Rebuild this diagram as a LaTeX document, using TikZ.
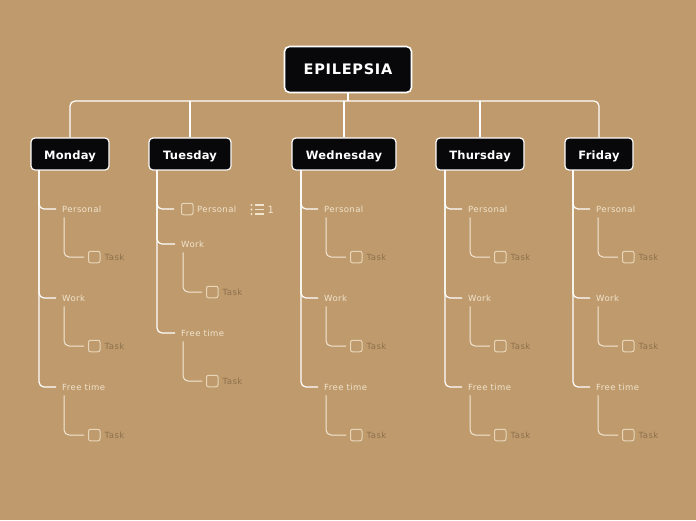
\documentclass[tikz,border=0pt]{standalone}
\usepackage{fontspec}
\setmainfont{DejaVu Sans}
\newfontfamily\rootfont[LetterSpace=5]{DejaVu Sans}
\newfontfamily\dayfont[LetterSpace=2]{DejaVu Sans}
\newfontfamily\labfont[LetterSpace=5]{DejaVu Sans}
\usetikzlibrary{calc}
\definecolor{bg}{RGB}{191,154,108}
\definecolor{lab}{RGB}{240,228,206}
\definecolor{tskc}{RGB}{140,112,78}
\definecolor{boxc}{RGB}{232,214,186}
\definecolor{subc}{RGB}{242,232,214}
\definecolor{nodefill}{RGB}{8,8,10}
\tikzset{
 rootbox/.style={draw=white, line width=1.6pt, fill=nodefill, rounded corners=5pt, text=white, font=\rootfont\bfseries\fontsize{14.5}{17}\selectfont, minimum width=127pt, minimum height=46pt, inner sep=0pt, text height=1em, text depth=0pt},
 daybox/.style={draw=white, line width=1.2pt, fill=nodefill, rounded corners=4pt, text=white, font=\dayfont\bfseries\fontsize{11.5}{13}\selectfont, minimum height=32pt, inner sep=0pt, text height=1em, text depth=0pt},
 mainline/.style={draw=white, line width=1.2pt, rounded corners=5pt},
 subline/.style={draw=subc, line width=1pt, rounded corners=5pt},
 lbl/.style={text=lab, font=\labfont\fontsize{8.5}{10}\selectfont, anchor=west, inner sep=0pt},
 chk/.style={draw=boxc, line width=1pt, rounded corners=2pt, minimum size=11.5pt, inner sep=0pt, anchor=west},
 tsk/.style={text=tskc, font=\labfont\fontsize{8.5}{10}\selectfont, anchor=west, inner sep=0pt},
}
\begin{document}
\begin{tikzpicture}[x=1pt,y=-1pt]
\fill[bg] (0,0) rectangle (696,520);
\useasboundingbox (0,0) rectangle (696,520);
% root and days
\node[rootbox] (root) at (348,69.5) {EPILEPSIA};
\node[daybox, minimum width=78pt] (mon) at (70,154) {Monday};
\node[daybox, minimum width=82pt] (tue) at (190,154) {Tuesday};
\node[daybox, minimum width=104pt] (wed) at (344,154) {Wednesday};
\node[daybox, minimum width=88pt] (thu) at (480,154) {Thursday};
\node[daybox, minimum width=68pt] (fri) at (599,154) {Friday};
\coordinate (hub) at (348,101);
\draw[mainline] (root.south) -- (hub);
\draw[mainline] (mon.north) |- (hub) -| (fri.north);
\draw[mainline] (tue.north) -- (tue.north |- hub);
\draw[mainline] (wed.north) -- (wed.north |- hub);
\draw[mainline] (thu.north) -- (thu.north |- hub);
% regular day columns
\foreach \n/\x in {mon/39, wed/301, thu/445, fri/573} {
  \coordinate (\n-v) at (\x,170);
  \node[lbl] (\n-p) at (\x+23,209) {Personal};
  \node[lbl] (\n-w) at (\x+23,298) {Work};
  \node[lbl] (\n-f) at (\x+23,387) {Free time};
  \foreach \k/\y in {p/257, w/346, f/435} {
    \node[chk] (\n-\k-c) at (\x+49,\y) {};
    \node[tsk] (\n-\k-t) at ($(\n-\k-c.east)+(4,0)$) {Task};
    \draw[mainline] (\n-v) |- ([xshift=-6pt]\n-\k.west);
    \draw[subline] ([xshift=2pt,yshift=-5pt]\n-\k.south west) |- ([xshift=-4pt]\n-\k-c.west);
  }
}
% Tuesday
\coordinate (tue-v) at (157,170);
\node[chk] (tue-p-c) at (181,209) {};
\node[lbl] (tue-p) at (197,209) {Personal};
\node[lbl] (tue-w) at (181,244) {Work};
\node[lbl] (tue-f) at (181,333) {Free time};
\draw[mainline] (tue-v) |- ([xshift=-7pt]tue-p-c.west);
\draw[mainline] (tue-v) |- ([xshift=-6pt]tue-w.west);
\draw[mainline] (tue-v) |- ([xshift=-6pt]tue-f.west);
\foreach \k/\y in {w/292, f/381} {
  \node[chk] (tue-\k-c) at (206,\y) {};
  \node[tsk] (tue-\k-t) at ($(tue-\k-c.east)+(4,0)$) {Task};
  \draw[subline] ([xshift=2pt,yshift=-5pt]tue-\k.south west) |- ([xshift=-4pt]tue-\k-c.west);
}
% list icon
\foreach \yy in {205,209.5,214} {
  \fill[lab] (251.5,\yy) circle (1.1);
  \fill[lab] (254.5,\yy-0.8) rectangle (263.5,\yy+0.8);
}
\node[text=lab, font=\fontsize{10}{12}\selectfont, anchor=west, inner sep=0pt] (tue-n) at (267.5,209.5) {1};
\end{tikzpicture}
\end{document}
